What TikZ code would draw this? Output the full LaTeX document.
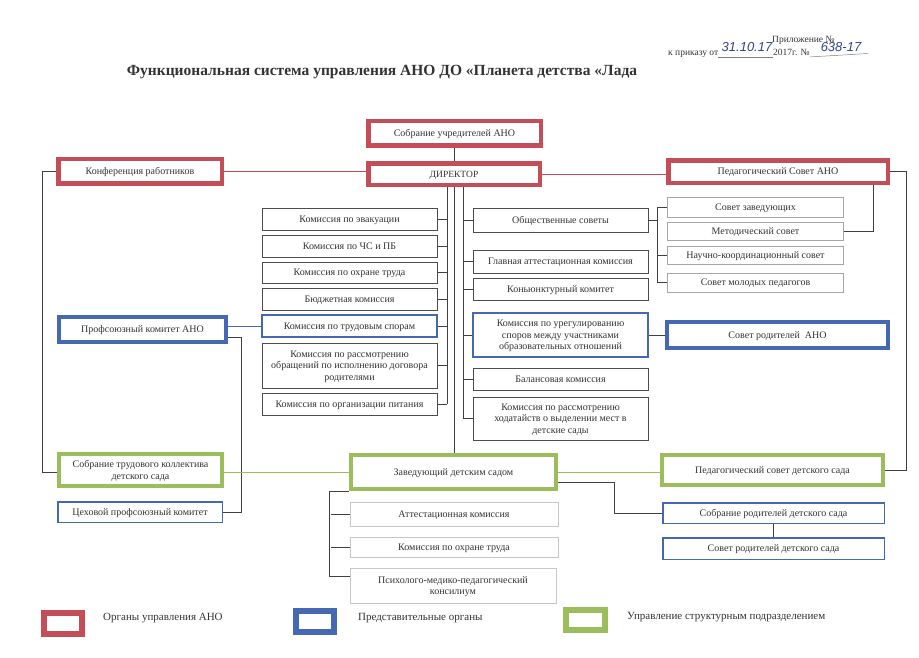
\documentclass[tikz,border=0pt]{standalone}
\usepackage{fontspec}
\setmainfont{Liberation Serif}
\newfontfamily\handfont{Liberation Sans}
\usepackage{tikz}
\usetikzlibrary{calc}
\definecolor{anored}{RGB}{196,78,88}
\definecolor{anoblue}{RGB}{68,104,178}
\definecolor{anogreen}{RGB}{156,189,92}
\definecolor{ink}{RGB}{50,66,140}

\begin{document}
\begin{tikzpicture}[x=1pt, y=-1pt,
        every node/.style={font=\fontsize{10}{11.5}\selectfont, text=black!80, inner sep=0pt, text height=8pt, text depth=1.5pt},
        two/.style={align=center, text height=19.5pt},
        three/.style={align=center, text height=31pt},
        sz/.style 2 args={minimum width=#1pt, minimum height=#2pt},
        orgbox/.style={draw=anored, line width=4.5pt, fill=white},
        repbox/.style={draw=anoblue, line width=4pt, fill=white},
        subbox/.style={draw=anogreen, line width=4pt, fill=white},
        repthin/.style={draw=anoblue, line width=1.5pt, fill=white},
        repmid/.style={draw=anoblue, line width=2pt, fill=white},
        commbox/.style={draw=black!70, line width=0.9pt, fill=white},
        sovbox/.style={draw=black!35, line width=0.8pt, fill=white},
        zavbox/.style={draw=black!22, line width=0.7pt, fill=white},
        link/.style={draw=black!75, line width=0.8pt},
        redlink/.style={draw=anored, line width=0.9pt},
        bluelink/.style={draw=anoblue, line width=0.9pt},
        greenlink/.style={draw=anogreen, line width=0.9pt},
        hand/.style={font=\handfont\itshape\fontsize{13}{13}\selectfont, text=ink},
        small/.style={font=\fontsize{9.5}{11}\selectfont},
        legtext/.style={anchor=west, font=\fontsize{11}{13}\selectfont}]
        \path[use as bounding box, fill=white] (0,0) rectangle (919,657);

        \node[font=\bfseries\fontsize{15.5}{18}\selectfont, text height=, text depth=] (title) at (382,72) {Функциональная система управления АНО ДО «Планета детства «Лада};
        \node[anchor=west, small] (prl) at (772,39) {Приложение №};
        \node[anchor=west, small] (prk) at (668,52) {к приказу от};
        \node[anchor=west, small] (god) at (773,52) {2017г. №};
        \node[hand] (dat) at (747,48) {31.10.17};
        \node[hand] (num) at (841,48) {638-17};
        \draw[black!50, line width=0.5pt] (prk.south east) -- (god.south west);
        \draw[black!50, line width=0.5pt] (god.south east) -- (868,53.5);

        \node[orgbox, sz={172.5}{24.5}] (uchr) at (454.5,133) {Собрание учредителей АНО};
        \node[orgbox, sz={171.5}{21.5}, small] (dir) at (454,174) {ДИРЕКТОР};
        \node[orgbox, sz={163.5}{24.5}] (konf) at (140,171) {Конференция работников};
        \node[orgbox, sz={219.5}{22.5}] (pedsov) at (778,171.5) {Педагогический Совет АНО};

        \node[commbox, sz={175}{22}] (evak) at (349.5,219) {Комиссия по эвакуации};
        \node[commbox, sz={175}{22}] (chs) at (349.5,246) {Комиссия по ЧС и ПБ};
        \node[commbox, sz={175}{21}] (ohr) at (349.5,272.5) {Комиссия по охране труда};
        \node[commbox, sz={175}{22}] (budg) at (349.5,299) {Бюджетная комиссия};
        \node[repmid, sz={175}{22}] (trud) at (349.5,326) {Комиссия по трудовым спорам};
        \node[commbox, three, sz={175}{45}] (obr) at (349.5,365.5) {Комиссия по рассмотрению\\обращений по исполнению договора\\родителями};
        \node[commbox, sz={175}{22}] (pit) at (349.5,404) {Комиссия по организации питания};

        \node[commbox, sz={175}{24}] (obsh) at (560.5,220) {Общественные советы};
        \node[commbox, sz={175}{23}] (glav) at (560.5,261.5) {Главная аттестационная комиссия};
        \node[commbox, sz={175}{22}] (kon) at (560.5,289) {Коньюнктурный комитет};
        \node[repmid, three, sz={175}{44}] (uregul) at (560.5,335) {Комиссия по урегулированию\\споров между участниками\\образовательных отношений};
        \node[commbox, sz={175}{22}] (bal) at (560.5,379) {Балансовая комиссия};
        \node[commbox, three, sz={175}{43}] (hod) at (560.5,418.5) {Комиссия по рассмотрению\\ходатайств о выделении мест в\\детские сады};

        \node[sovbox, sz={176}{20}] (sovzav) at (755.5,207) {Совет заведующих};
        \node[sovbox, sz={176}{18}] (metod) at (755.5,231) {Методический совет};
        \node[sovbox, sz={176}{18}] (nauch) at (755.5,255) {Научно-координационный совет};
        \node[sovbox, sz={176}{19}] (molod) at (755.5,282.5) {Совет молодых педагогов};

        \node[repbox, sz={167}{25}] (profk) at (142.5,329.5) {Профсоюзный комитет АНО};
        \node[repbox, sz={221}{26}] (sovrodano) at (777.5,335) {Совет родителей~ АНО};

        \node[subbox, two, sz={163}{32}] (sobtr) at (140.5,470) {Собрание трудового коллектива\\детского сада};
        \node[repthin, sz={164.5}{20.5}] (cech) at (140,512) {Цеховой профсоюзный комитет};
        \node[subbox, sz={205}{34}] (zav) at (453.5,472) {Заведующий детским садом};
        \node[subbox, sz={221}{30}] (pedsad) at (772.5,470) {Педагогический совет детского сада};
        \node[repthin, sz={221.5}{20.5}] (sobrod) at (773.5,513) {Собрание родителей детского сада};
        \node[repthin, sz={221.5}{21.5}] (sovrod) at (773.5,548.5) {Совет родителей детского сада};

        \node[zavbox, sz={208}{24}] (att) at (454,514) {Аттестационная комиссия};
        \node[zavbox, sz={208}{20}] (ohrs) at (454,547) {Комиссия по охране труда};
        \node[zavbox, two, sz={206}{35}] (psy) at (453,585.5) {Психолого-медико-педагогический\\консилиум};

        \draw[link] (uchr.south) -- (uchr.south |- dir.north);
        \draw[redlink] (konf.east) -- (konf.east -| dir.west);
        \draw[redlink] (dir.east) -- (dir.east -| pedsov.west);

        \coordinate (lb) at ($(dir.south)+(-7,0)$);
        \coordinate (rb) at ($(dir.south)+(9,0)$);
        \draw[link] (lb) -- (lb |- pit.east);
        \draw[link] (rb) -- (rb |- hod.west);
        \draw[link] (dir.south) -- (dir.south |- zav.north);
        \draw[link] (evak.east) -- (evak.east -| lb);
        \draw[link] (chs.east) -- (chs.east -| lb);
        \draw[link] (ohr.east) -- (ohr.east -| lb);
        \draw[link] (budg.east) -- (budg.east -| lb);
        \draw[link] (trud.east) -- (trud.east -| lb);
        \draw[link] (obr.east) -- (obr.east -| lb);
        \draw[link] (pit.east) -- (pit.east -| lb);
        \draw[link] (rb |- obsh.west) -- (obsh.west);
        \draw[link] (rb |- glav.west) -- (glav.west);
        \draw[link] (rb |- kon.west) -- (kon.west);
        \draw[link] (rb |- uregul.west) -- (uregul.west);
        \draw[link] (rb |- bal.west) -- (bal.west);
        \draw[link] (rb |- hod.west) -- (hod.west);

        \draw[link] (obsh.east) -- ++(9,0);
        \draw[link] (sovzav.west) -- ++(-10,0) |- (molod.west);
        \draw[link] (nauch.west) -- ++(-10,0);
        \draw[link] (metod.east) -- ++(29,0) coordinate (m1) -- (m1 |- pedsov.south);
        \draw[link] (uregul.east) -- (sovrodano.west);

        \draw[link] (konf.west) -- ++(-14,0) |- ([yshift=-2pt]sobtr.west);
        \draw[bluelink] (trud.west -| profk.east) -- (trud.west);
        \draw[link] ([yshift=-8pt]profk.east) -- ++(13,0) |- (cech.east);
        \draw[greenlink] (zav.west -| sobtr.east) -- (zav.west);
        \draw[greenlink] (zav.east) -- (zav.east -| pedsad.west);
        \draw[link] (pedsov.east) -- ++(16,0) |- (pedsad.east);
        \draw[link] ([yshift=-10pt]zav.east) -- ++(56,0) |- (sobrod.west);
        \draw[link] (sobrod.south) -- (sovrod.north);
        \draw[link] (zav.south west) -- ++(-20,0) |- ([yshift=9pt]psy.west);
        \draw[link] (att.west) -- ++(-19,0);
        \draw[link] (ohrs.west) -- ++(-19,0);

        \node[draw=anored, line width=5.5pt, sz={38}{21}] (legr) at (63,623.5) {};
        \node[draw=anoblue, line width=5.5pt, sz={38}{21}] (legb) at (315,621.5) {};
        \node[draw=anogreen, line width=5.5pt, sz={39}{20}] (legg) at (585.5,620) {};
        \node[legtext] (legrt) at (103,617) {Органы управления АНО};
        \node[legtext] (legbt) at (358,617) {Представительные органы};
        \node[legtext] (leggt) at (627,616) {Управление структурным подразделением};
    \end{tikzpicture}
\end{document}
